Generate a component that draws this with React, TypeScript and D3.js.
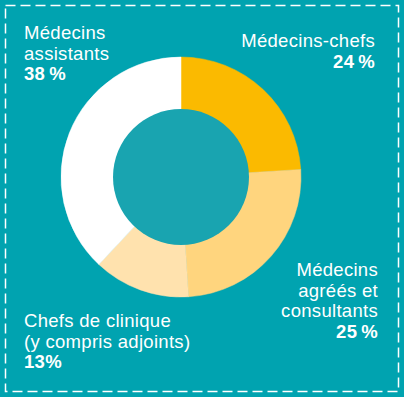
import * as React from 'react';
import * as d3 from 'd3';

// categories and shares (%), clockwise from 12 o'clock
const categories = [
  'Médecins-chefs',
  'Médecins agréés et consultants',
  'Chefs de clinique (y compris adjoints)',
  'Médecins assistants',
];
const shares = [24, 25, 13, 38];
const shareLabels = ['24\u2009%', '25\u2009%', '13%', '38\u2009%'];
const labelLines = [
  ['Médecins-chefs'],
  ['Médecins', 'agréés et', 'consultants'],
  ['Chefs de clinique', '(y compris adjoints)'],
  ['Médecins', 'assistants'],
];
const colors = ['#fbba00', '#ffd57e', '#ffe2ae', '#ffffff'];

const width = 404;
const height = 397;
const bg = '#00a3b0';
const hole = '#19a4b0';

// where each label block sits (x, first baseline, anchor)
const labelPos: { x: number; y: number; anchor: 'start' | 'end' }[] = [
  { x: 375, y: 47, anchor: 'end' },
  { x: 378, y: 276, anchor: 'end' },
  { x: 24, y: 327, anchor: 'start' },
  { x: 24, y: 39, anchor: 'start' },
];

const App: React.FC = () => {
  const cx = 181;
  const cy = 177;
  const outer = 120;
  const inner = 68;

  const pie = d3.pie<number>().value((d) => d).sort(null);
  const arcs = pie(shares);
  const arc = d3.arc<d3.PieArcDatum<number>>().innerRadius(inner - 1).outerRadius(outer);

  const lineH = 20.7;

  return (
    <svg
      width={width}
      height={height}
      style={{ position: 'absolute', left: 0, top: 0, display: 'block' }}
      fontFamily="'Liberation Sans', Arial, sans-serif"
    >
      <rect x={0} y={0} width={width} height={height} fill={bg} />
      <rect
        x={5.5}
        y={5.5}
        width={393}
        height={386}
        fill="none"
        stroke="#ffffff"
        strokeWidth={1.5}
        strokeDasharray="10 5"
      />
      <g transform={`translate(${cx},${cy})`}>
        {arcs.map((a, i) => (
          <path key={categories[i]} d={arc(a) || ''} fill={colors[i]} stroke={colors[i]} strokeWidth={0.5} />
        ))}
        <circle r={inner} fill={hole} />
      </g>
      {labelPos.map((p, i) => {
        const lines = [...labelLines[i], shareLabels[i]];
        return (
          <text key={i} x={p.x} y={p.y} textAnchor={p.anchor} fill="#ffffff" fontSize={18.5} letterSpacing={0.3}>
            {lines.map((l, j) => (
              <tspan
                key={j}
                x={p.x}
                y={p.y + j * lineH}
                fontWeight={j === lines.length - 1 ? 'bold' : 'normal'}
              >
                {l}
              </tspan>
            ))}
          </text>
        );
      })}
    </svg>
  );
};

export default App;
